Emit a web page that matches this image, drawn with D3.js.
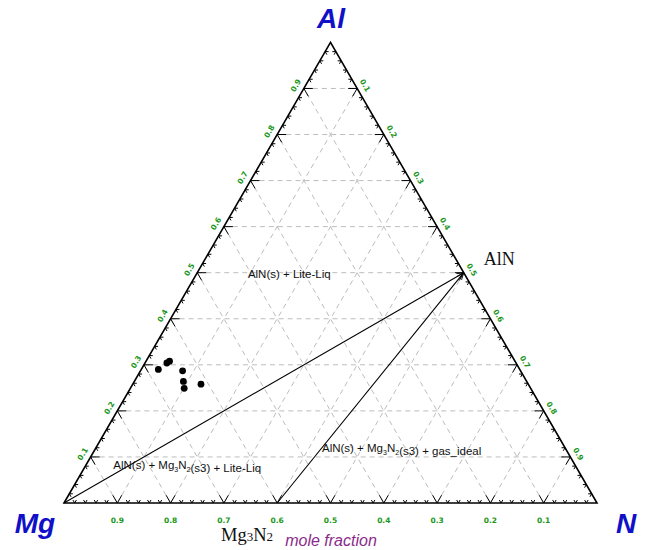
<!DOCTYPE html>
<html><head><meta charset="utf-8">
<script src="https://cdn.jsdelivr.net/npm/d3@7"></script>
<style>body{margin:0;background:#fff}svg{display:block}</style>
</head><body>
<svg id="c" width="649" height="550"></svg>
<script>
// ---- data ----
const vertexNames = ["Al", "Mg", "N"];
const majorTicks = [0.1, 0.2, 0.3, 0.4, 0.5, 0.6, 0.7, 0.8, 0.9];
const tickLabels = ["0.1", "0.2", "0.3", "0.4", "0.5", "0.6", "0.7", "0.8", "0.9"];
const minorTicks = d3.range(1, 50).map(i => i / 50).filter(v => Math.round(v * 50) % 5 !== 0);
// compositions as [Al, N] fractions
const compoundNames = ["Mg", "Mg3N2", "AlN"];
const compoundAl = [0, 0, 0.5];
const compoundN = [0, 0.4, 0.5];
const tieLines = [["Mg", "AlN"], ["Mg3N2", "AlN"]];
// experimental points
const pointsAl = [0.290, 0.304, 0.308, 0.287, 0.264, 0.249, 0.258];
const pointsN = [0.032, 0.041, 0.044, 0.079, 0.092, 0.101, 0.128];
const phaseLabels = ["AlN(s) + Lite-Liq", "AlN(s) + Mg3N2(s3) + Lite-Liq", "AlN(s) + Mg3N2(s3) + gas_ideal"];
const phaseAl = [0.5, 0.085, 0.122];
const phaseN = [0.095, 0.050, 0.423];

// ---- scales ----
const svg = d3.select("#c");
const xs = d3.scaleLinear().domain([0, 1]).range([64, 597]);
const ys = d3.scaleLinear().domain([0, 1]).range([503, 42.4]);
const P = (al, n) => [xs(n + al / 2), ys(al)];

const green = "#1a961a";
const blue = "#1010c8";

// ---- grid ----
const grid = svg.append("g").attr("stroke", "#bdbdbd").attr("stroke-width", 1)
  .attr("stroke-dasharray", "5,4").attr("fill", "none");
majorTicks.forEach(v => {
  let a = P(v, 0), b = P(v, 1 - v);
  grid.append("line").attr("x1", a[0]).attr("y1", a[1]).attr("x2", b[0]).attr("y2", b[1]);
  a = P(0, v); b = P(1 - v, v);
  grid.append("line").attr("x1", a[0]).attr("y1", a[1]).attr("x2", b[0]).attr("y2", b[1]);
  a = P(0, 1 - v); b = P(1 - v, 0);
  grid.append("line").attr("x1", a[0]).attr("y1", a[1]).attr("x2", b[0]).attr("y2", b[1]);
});

// ---- ticks ----
const tk = svg.append("g").attr("stroke", "#000").attr("stroke-width", 1).attr("fill", "none");
function chevron(pt, d1, d2, len) {
  tk.append("path").attr("d",
    `M${pt[0] + d1[0] * len},${pt[1] + d1[1] * len}L${pt[0]},${pt[1]}L${pt[0] + d2[0] * len},${pt[1] + d2[1] * len}`);
}
function allTicks(values, len) {
  values.forEach(v => {
    let p = P(0, v);
    chevron(p, [-0.5, -0.866], [0.5, -0.866], len);
    p = P(v, 0);
    chevron(p, [1, 0], [0.5, 0.866], len);
    p = P(1 - v, v);
    chevron(p, [-1, 0], [-0.5, 0.866], len);
  });
}
allTicks(majorTicks, 9);
allTicks(minorTicks, 3.5);

// ---- triangle ----
const tri = [P(1, 0), P(0, 0), P(0, 1)];
svg.append("path").attr("d", d3.line()(tri) + "Z").attr("fill", "none")
  .attr("stroke", "#000").attr("stroke-width", 1.6);

// ---- tie lines ----
svg.append("defs").append("marker").attr("id", "arr").attr("viewBox", "0 0 10 10")
  .attr("refX", 10).attr("refY", 5).attr("markerWidth", 7).attr("markerHeight", 7)
  .attr("orient", "auto").attr("markerUnits", "userSpaceOnUse")
  .append("path").attr("d", "M0,1L10,5L0,9").attr("fill", "none").attr("stroke", "#000").attr("stroke-width", 1.2);
tieLines.forEach(([a, b]) => {
  const ia = compoundNames.indexOf(a), ib = compoundNames.indexOf(b);
  const pa = P(compoundAl[ia], compoundN[ia]), pb = P(compoundAl[ib], compoundN[ib]);
  svg.append("line").attr("x1", pa[0]).attr("y1", pa[1]).attr("x2", pb[0]).attr("y2", pb[1])
    .attr("stroke", "#000").attr("stroke-width", 1.1).attr("marker-end", "url(#arr)");
});

// ---- points ----
svg.append("g").selectAll("circle").data(pointsAl).join("circle")
  .attr("cx", (d, i) => P(d, pointsN[i])[0]).attr("cy", (d, i) => P(d, pointsN[i])[1])
  .attr("r", 3.4).attr("fill", "#000");

// ---- tick labels ----
const tl = svg.append("g").attr("fill", green).attr("font-family", "DejaVu Sans, Verdana, sans-serif")
  .attr("font-size", 7.5).attr("font-weight", "bold").attr("text-anchor", "middle");
majorTicks.forEach((v, i) => {
  let p = P(v, 0);
  tl.append("text").attr("transform", `translate(${p[0] - 8},${p[1] - 3}) rotate(-60)`)
    .attr("dy", "0.35em").text(tickLabels[i]);
  p = P(1 - v, v);
  tl.append("text").attr("transform", `translate(${p[0] + 8},${p[1] - 3}) rotate(60)`)
    .attr("dy", "0.35em").text(tickLabels[i]);
  p = P(0, 1 - v);
  tl.append("text").attr("x", p[0]).attr("y", p[1] + 20).text(tickLabels[i]);
});

// ---- vertex labels ----
const vl = svg.append("g").attr("fill", blue).attr("font-family", "Liberation Sans, Arial, sans-serif")
  .attr("font-size", 28).attr("font-weight", "bold").attr("font-style", "italic").attr("text-anchor", "middle");
vl.append("text").attr("x", 331).attr("y", 28).text(vertexNames[0]);
vl.append("text").attr("x", 35).attr("y", 533).text(vertexNames[1]);
vl.append("text").attr("x", 626).attr("y", 533).text(vertexNames[2]);

// ---- axis title ----
svg.append("text").attr("x", 331).attr("y", 546).attr("text-anchor", "middle")
  .attr("font-family", "Liberation Sans, Arial, sans-serif").attr("font-size", 16).attr("font-style", "italic")
  .attr("fill", "#8a2a8a").text("mole fraction");

// ---- compound labels (serif) ----
const serif = "Liberation Serif, Times New Roman, serif";
const pA = P(compoundAl[2], compoundN[2]);
svg.append("text").attr("x", pA[0] + 20).attr("y", pA[1] - 8).attr("font-family", serif).attr("font-size", 18)
  .attr("fill", "#111").text("AlN");
const m3 = svg.append("text").attr("x", 221).attr("y", 541).attr("font-family", serif).attr("font-size", 18.5).attr("fill", "#111");
m3.append("tspan").text("Mg");
m3.append("tspan").attr("font-size", 13).text("3");
m3.append("tspan").text("N");
m3.append("tspan").attr("font-size", 13).text("2");

// ---- phase labels ----
const pl = svg.append("g").attr("font-family", "Liberation Sans, Arial, sans-serif").attr("font-size", 11.5).attr("fill", "#111");
phaseLabels.forEach((s, i) => {
  const p = P(phaseAl[i], phaseN[i]);
  const t = pl.append("text").attr("x", p[0]).attr("y", p[1] + 5);
  const bits = s.split(/(Mg3N2)/);
  bits.forEach(b => {
    if (b === "Mg3N2") {
      t.append("tspan").text("Mg");
      t.append("tspan").attr("font-size", 7).attr("dy", 3).text("3");
      t.append("tspan").attr("dy", -3).text("N");
      t.append("tspan").attr("font-size", 7).attr("dy", 3).text("2");
      t.append("tspan").attr("dy", -3).text("");
    } else t.append("tspan").text(b);
  });
});
</script>
</body></html>
